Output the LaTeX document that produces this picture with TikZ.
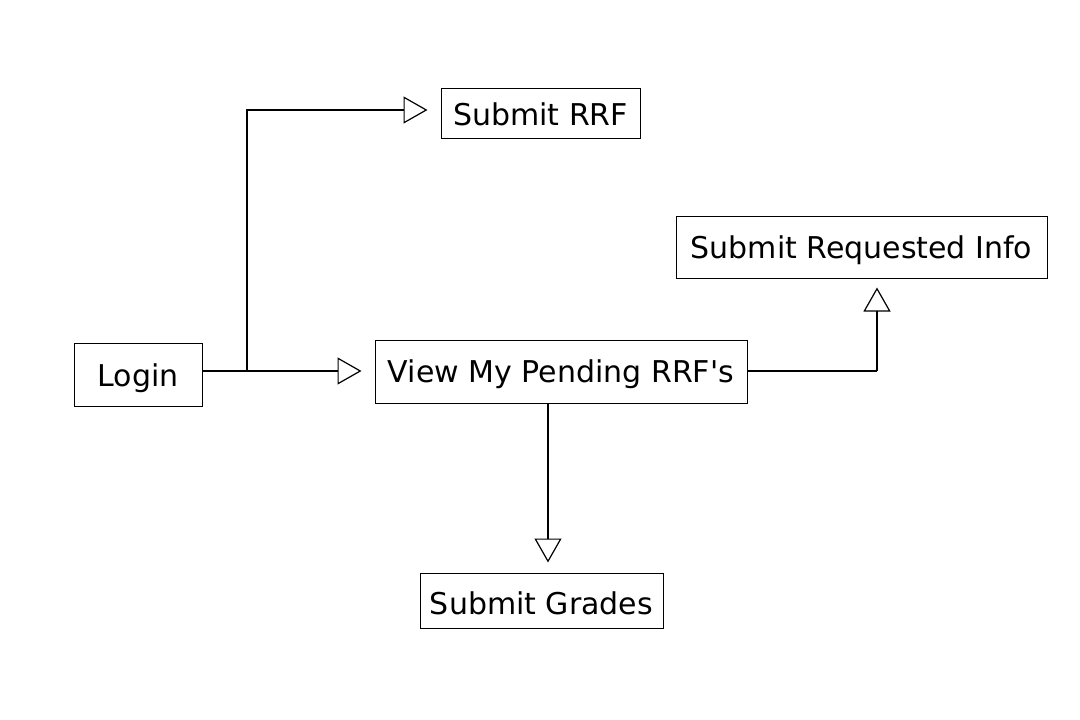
\documentclass[tikz,border=0pt]{standalone}
\usepackage{fontspec}
\setmainfont{DejaVu Sans}
\usetikzlibrary{arrows.meta}
\newcommand{\lowtext}[2]{\raisebox{-#1}[\height][\depth]{#2}}
\begin{document}
\begin{tikzpicture}[x=1pt,y=-1pt,
  box/.style={draw,line width=1pt,inner sep=0pt,font=\fontsize{30}{34}\selectfont},
  conn/.style={line width=1.2pt,-{Triangle[open,length=24pt,width=27pt,fill=white]}}]
\useasboundingbox[fill=white] (0,0) rectangle (1080,720);
\node[box,minimum width=128pt,minimum height=63pt] (login) at (138,374.5) {\lowtext{4pt}{Login}};
\node[box,minimum width=372pt,minimum height=63pt] (view) at (561,371.5) {\lowtext{3pt}{View My Pending RRF\textquotesingle s}};
\node[box,minimum width=199pt,minimum height=50pt] (rrf) at (540.5,113) {\lowtext{1pt}{Submit RRF}};
\node[box,minimum width=371pt,minimum height=62pt] (info) at (861.5,247) {\lowtext{3pt}{Submit Requested Info}};
\node[box,minimum width=243pt,minimum height=55pt] (grades) at (541.5,600.5) {\lowtext{3pt}{Submit Grades}};
\coordinate (j) at (247,371);
\coordinate (c) at (877,371);
\draw[line width=1.2pt] (login.east|-j) -- (j);
\draw[conn,shorten >=13pt] (j) -- (view.west|-j);
\draw[conn,shorten >=13pt] (j) |- ([yshift=3pt]rrf.west);
\draw[line width=1.2pt] (view.east|-c) -- (c);
\draw[conn,shorten >=9pt] (c) -- (c|-info.south);
\draw[conn,shorten >=10pt] ([xshift=-13pt]view.south) -- ([xshift=6.5pt]grades.north);
\end{tikzpicture}
\end{document}
